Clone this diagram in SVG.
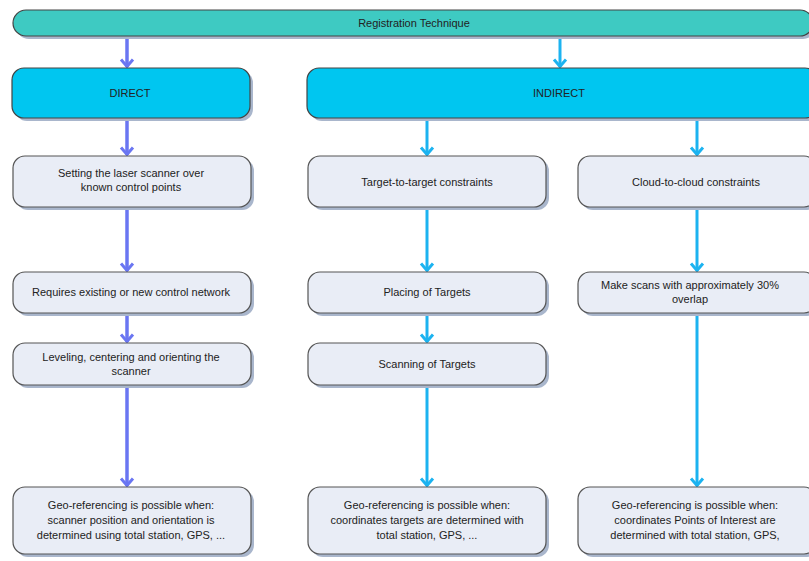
<svg xmlns="http://www.w3.org/2000/svg" width="809" height="561" viewBox="0 0 809 561">
<style>
text{font-family:"Liberation Sans",Arial,sans-serif;font-size:11px;fill:#222;text-anchor:middle}
.sh{fill:#a9b6cc}
.box{fill:#e9edf6;stroke:#555;stroke-width:1.2}
.hd{fill:#00c6f0;stroke:#444;stroke-width:1.2}
.top{fill:#3ecac2;stroke:#444;stroke-width:1.2}
.cd{stroke:#6a76f2;stroke-width:3.5;fill:none}
.ci{stroke:#1cb3f0;stroke-width:3;fill:none}
</style>
<defs>
<marker id="ad" markerWidth="11" markerHeight="16" refX="9.5" refY="8" orient="auto" markerUnits="userSpaceOnUse" viewBox="0 0 11 16"><path d="M2,2 L9,8 L2,14" fill="none" stroke="#6a76f2" stroke-width="3"/></marker>
<marker id="ai" markerWidth="11" markerHeight="16" refX="9.5" refY="8" orient="auto" markerUnits="userSpaceOnUse" viewBox="0 0 11 16"><path d="M2,2 L9,8 L2,14" fill="none" stroke="#1cb3f0" stroke-width="3"/></marker>
</defs>
<g id="connectors">
<line class="cd" x1="127" y1="38" x2="127" y2="67" marker-end="url(#ad)"/>
<line class="ci" x1="560" y1="38" x2="560" y2="67" marker-end="url(#ai)"/>
<line class="cd" x1="127" y1="119" x2="127" y2="155" marker-end="url(#ad)"/>
<line class="ci" x1="427" y1="119" x2="427" y2="155" marker-end="url(#ai)"/>
<line class="ci" x1="697" y1="119" x2="697" y2="155" marker-end="url(#ai)"/>
<line class="cd" x1="127" y1="208" x2="127" y2="271" marker-end="url(#ad)"/>
<line class="ci" x1="427" y1="208" x2="427" y2="271" marker-end="url(#ai)"/>
<line class="ci" x1="697" y1="208" x2="697" y2="271" marker-end="url(#ai)"/>
<line class="cd" x1="127" y1="314" x2="127" y2="342" marker-end="url(#ad)"/>
<line class="ci" x1="427" y1="314" x2="427" y2="342" marker-end="url(#ai)"/>
<line class="cd" x1="127" y1="386" x2="127" y2="486" marker-end="url(#ad)"/>
<line class="ci" x1="427" y1="386" x2="427" y2="486" marker-end="url(#ai)"/>
<line class="ci" x1="697" y1="314" x2="697" y2="486" marker-end="url(#ai)"/>
</g>
<g id="registration">
<rect class="sh" x="16" y="13" width="800" height="26" rx="13"/>
<rect class="top" x="13" y="10" width="800" height="26" rx="13"/>
<text x="414" y="27" font-size="12">Registration Technique</text>
</g>
<g id="direct">
<rect class="sh" x="15" y="71" width="238" height="50" rx="12"/>
<rect class="hd" x="12" y="68" width="238" height="50" rx="12"/>
<text x="130" y="97" font-size="10">DIRECT</text>
</g>
<g id="indirect">
<rect class="sh" x="310" y="71" width="510" height="50" rx="12"/>
<rect class="hd" x="307" y="68" width="510" height="50" rx="12"/>
<text x="559" y="97" font-size="10">INDIRECT</text>
</g>
<g id="setting">
<rect class="sh" x="16" y="159" width="238" height="51" rx="12"/>
<rect class="box" x="13" y="156" width="238" height="51" rx="12"/>
<text x="131" y="177">Setting the laser scanner over</text>
<text x="131" y="191">known control points</text>
</g>
<g id="target">
<rect class="sh" x="311" y="159" width="238" height="51" rx="12"/>
<rect class="box" x="308" y="156" width="238" height="51" rx="12"/>
<text x="427" y="186">Target-to-target constraints</text>
</g>
<g id="cloud">
<rect class="sh" x="581" y="159" width="238" height="51" rx="12"/>
<rect class="box" x="578" y="156" width="238" height="51" rx="12"/>
<text x="696" y="186">Cloud-to-cloud constraints</text>
</g>
<g id="requires">
<rect class="sh" x="16" y="275" width="238" height="41" rx="12"/>
<rect class="box" x="13" y="272" width="238" height="41" rx="12"/>
<text x="131" y="296">Requires existing or new control network</text>
</g>
<g id="placing">
<rect class="sh" x="311" y="275" width="238" height="41" rx="12"/>
<rect class="box" x="308" y="272" width="238" height="41" rx="12"/>
<text x="427" y="296">Placing of Targets</text>
</g>
<g id="makescans">
<rect class="sh" x="581" y="275" width="238" height="41" rx="12"/>
<rect class="box" x="578" y="272" width="238" height="41" rx="12"/>
<text x="690" y="289">Make scans with approximately 30%</text>
<text x="690" y="303">overlap</text>
</g>
<g id="leveling">
<rect class="sh" x="16" y="346" width="238" height="42" rx="12"/>
<rect class="box" x="13" y="343" width="238" height="42" rx="12"/>
<text x="131" y="361">Leveling, centering and orienting the</text>
<text x="131" y="375">scanner</text>
</g>
<g id="scanning">
<rect class="sh" x="311" y="346" width="238" height="42" rx="12"/>
<rect class="box" x="308" y="343" width="238" height="42" rx="12"/>
<text x="427" y="368">Scanning of Targets</text>
</g>
<g id="geo-direct">
<rect class="sh" x="16" y="490" width="238" height="67" rx="12"/>
<rect class="box" x="13" y="487" width="238" height="67" rx="12"/>
<text x="131" y="509">Geo-referencing is possible when:</text>
<text x="131" y="524">scanner position and orientation is</text>
<text x="131" y="539">determined using total station, GPS, ...</text>
</g>
<g id="geo-target">
<rect class="sh" x="311" y="490" width="238" height="67" rx="12"/>
<rect class="box" x="308" y="487" width="238" height="67" rx="12"/>
<text x="427" y="509">Geo-referencing is possible when:</text>
<text x="427" y="524">coordinates targets are determined with</text>
<text x="427" y="539">total station, GPS, ...</text>
</g>
<g id="geo-cloud">
<rect class="sh" x="581" y="490" width="238" height="67" rx="12"/>
<rect class="box" x="578" y="487" width="238" height="67" rx="12"/>
<text x="695" y="509">Geo-referencing is possible when:</text>
<text x="695" y="524">coordinates Points of Interest  are</text>
<text x="695" y="539">determined with total station, GPS,</text>
</g>
</svg>
